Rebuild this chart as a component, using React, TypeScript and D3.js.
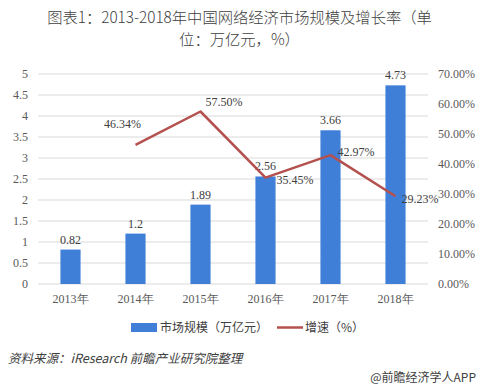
import React from "react";
import * as d3 from "d3";

const years = ["2013年", "2014年", "2015年", "2016年", "2017年", "2018年"];
const scale = [0.82, 1.2, 1.89, 2.56, 3.66, 4.73];
const growthYears = ["2014年", "2015年", "2016年", "2017年", "2018年"];
const growth = [46.34, 57.5, 35.45, 42.97, 29.23];
const leftTicks = [0, 0.5, 1, 1.5, 2, 2.5, 3, 3.5, 4, 4.5, 5];
const rightTicks = [0, 10, 20, 30, 40, 50, 60, 70];

const W = 479, H = 390;
const left = 38, right = 428, top = 74, bottom = 284;
const barColor = "#3f7fd8";
const lineColor = "#b4504e";
const numFont = "'Liberation Serif', serif";
const cjkFont = "'Noto Sans CJK SC', sans-serif";

export default function App() {
  const x = d3.scaleBand().domain(years).range([left, right]).paddingInner(0.69).paddingOuter(0.345);
  const yL = d3.scaleLinear().domain([0, 5]).range([bottom, top]);
  const yR = d3.scaleLinear().domain([0, 70]).range([bottom, top]);
  const cx = (d: string) => (x(d) as number) + x.bandwidth() / 2;
  const line = d3.line<number>().x((_, i) => cx(growthYears[i])).y((d) => yR(d));
  const labelOffsets: [number, number, string][] = [
    [-13, -21, "middle"],
    [5, -10, "start"],
    [11, 2, "start"],
    [7, -3, "start"],
    [6, 3, "start"],
  ];
  return (
    <svg width={W} height={H} style={{ position: "absolute", left: 0, top: 0, background: "#fff" }}>
      <text x={W / 2} y={23} textAnchor="middle" fontFamily={cjkFont} fontSize={15.3} fontWeight={300} fill="#404040">
        图表1：2013-2018年中国网络经济市场规模及增长率（单
      </text>
      <text x={W / 2} y={45} textAnchor="middle" fontFamily={cjkFont} fontSize={15.3} fontWeight={300} fill="#404040">
        位：万亿元，%）
      </text>
      {leftTicks.map((t) => (
        <g key={t}>
          <line x1={left} x2={right} y1={yL(t)} y2={yL(t)} stroke="#d9d9d9" strokeWidth={1} />
          <text x={28} y={yL(t) + 4} textAnchor="end" fontFamily={numFont} fontSize={12} fill="#595959">
            {t}
          </text>
        </g>
      ))}
      {rightTicks.map((t) => (
        <text key={t} x={438} y={yR(t) + 4} textAnchor="start" fontFamily={numFont} fontSize={12} fill="#595959">
          {t.toFixed(2)}%
        </text>
      ))}
      {years.map((d, i) => (
        <g key={d}>
          <rect x={x(d)} y={yL(scale[i])} width={x.bandwidth()} height={bottom - yL(scale[i])} fill={barColor} />
          <text x={cx(d)} y={yL(scale[i]) - 6} textAnchor="middle" fontFamily={numFont} fontSize={12} fill="#404040">
            {scale[i]}
          </text>
          <text x={cx(d)} y={bottom + 19} textAnchor="middle" fontFamily={numFont} fontSize={12} fill="#595959">
            {d}
          </text>
        </g>
      ))}
      <path d={line(growth) || ""} fill="none" stroke={lineColor} strokeWidth={2.5} strokeLinejoin="round" />
      {growth.map((g, i) => {
        const [dx, dy, anchor] = labelOffsets[i];
        return (
          <text key={i} x={cx(growthYears[i]) + dx} y={yR(g) + dy + 4} textAnchor={anchor as any} fontFamily={numFont} fontSize={12} fill="#404040">
            {g.toFixed(2)}%
          </text>
        );
      })}
      <rect x={131} y={323} width={26} height={9} fill={barColor} />
      <text x={160} y={332} fontFamily={cjkFont} fontSize={12} fill="#404040">市场规模（万亿元）</text>
      <line x1={277} x2={303} y1={327.5} y2={327.5} stroke={lineColor} strokeWidth={2.5} />
      <text x={305} y={332} fontFamily={cjkFont} fontSize={12} fill="#404040">增速（%）</text>
      <text x={8} y={363} fontFamily={cjkFont} fontSize={12.5} fontStyle="italic" fill="#404040">
        资料来源：iResearch 前瞻产业研究院整理
      </text>
      <text x={476} y={382} textAnchor="end" fontFamily={cjkFont} fontSize={12} fill="#404040">@前瞻经济学人APP</text>
    </svg>
  );
}
